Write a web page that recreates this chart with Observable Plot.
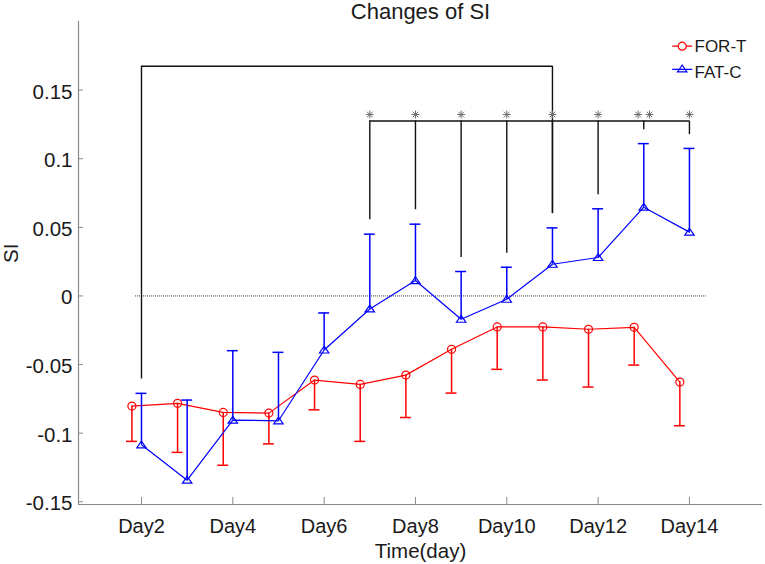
<!DOCTYPE html>
<html>
<head>
<meta charset="utf-8">
<script src="https://cdn.jsdelivr.net/npm/d3@7"></script>
<script src="https://cdn.jsdelivr.net/npm/@observablehq/plot@0.6"></script>
<style>
  html, body { margin: 0; padding: 0; background: #fff; }
  #chart svg { display: block; }
</style>
</head>
<body>
<div id="chart"></div>
<script>
// ---- data ----
const days = [2, 3, 4, 5, 6, 7, 8, 9, 10, 11, 12, 13, 14];
const forT      = [-0.0803, -0.0783, -0.0849, -0.0854, -0.0613, -0.0645, -0.0577, -0.0389, -0.0226, -0.0226, -0.0243, -0.0229, -0.0628];
const forTLower = [-0.1060, -0.1140, -0.1234, -0.1078, -0.0830, -0.1060, -0.0886, -0.0708, -0.0535, -0.0613, -0.0664, -0.0504, -0.0946];
const fatC      = [-0.1085, -0.1343, -0.0905, -0.0910, -0.0394, -0.0095, 0.0112, -0.0170, -0.0024, 0.0231, 0.0280, 0.0647, 0.0465];
const fatCUpper = [-0.0710, -0.0759, -0.0399, -0.0411, -0.0124, 0.0450, 0.0523, 0.0178, 0.0209, 0.0496, 0.0635, 0.1110, 0.1075];

const seriesNames = ["FOR-T", "FAT-C"];
const xTicks = [2, 4, 6, 8, 10, 12, 14];
const xTickLabels = ["Day2", "Day4", "Day6", "Day8", "Day10", "Day12", "Day14"];
const yTicks = [-0.15, -0.1, -0.05, 0, 0.05, 0.1, 0.15];
const yTickLabels = ["-0.15", "-0.1", "-0.05", "0", "0.05", "0.1", "0.15"];

// significance: long bracket Day2–Day11
const longBracketDays = [2, 11];
const longBracketTop = 0.1674;
const longBracketEnds = [-0.0606, 0.0600];
// significance: comb bracket Day7–Day14
const combDays = [7, 8, 9, 10, 11, 12, 13, 14];
const combTop = 0.1275;
const combEnds = [0.0555, 0.0628, 0.0280, 0.0311, 0.0600, 0.0737, 0.1212, 0.1175];
const combStars = [1, 1, 1, 1, 1, 1, 2, 1];
const starLevel = 0.1322;

// zero reference line extent
const zeroLineDays = [1.87, 14.37];

// ---- layout / style ----
const xDomain = [0.6205, 15.6];
const yDomain = [-0.152, 0.2];
const redOffset = -0.21;
const capHalf = 0.12;
const starGap = 0.125;
const RED = "#ff0000", BLUE = "#0000ff", AXIS = "#8a8a8a", INK = "#1a1a1a";

// ---- derived tables ----
const redRows = days.map((d, i) => ({x: d + redOffset, y: forT[i], lo: forTLower[i]}));
const blueRows = days.map((d, i) => ({x: d, y: fatC[i], hi: fatCUpper[i]}));
const verticals = [
  {x: longBracketDays[0], y1: longBracketTop, y2: longBracketEnds[0]},
  {x: longBracketDays[1], y1: longBracketTop, y2: longBracketEnds[1]},
  ...combDays.map((d, i) => ({x: d, y1: combTop, y2: combEnds[i]}))
];
const horizontals = [
  {y: longBracketTop, x1: longBracketDays[0], x2: longBracketDays[1]},
  {y: combTop, x1: combDays[0], x2: combDays[combDays.length - 1]}
];
const stars = combDays.flatMap((d, i) => combStars[i] === 2 ? [d - starGap, d + starGap] : [d]);

// ---- custom symbols ----
const asterisk = {
  draw(ctx) {
    const r = 4, q = r * Math.SQRT1_2;
    ctx.moveTo(-r, 0); ctx.lineTo(r, 0);
    ctx.moveTo(0, -r); ctx.lineTo(0, r);
    ctx.moveTo(-q, -q); ctx.lineTo(q, q);
    ctx.moveTo(-q, q); ctx.lineTo(q, -q);
  }
};
const triangle = {
  draw(ctx) {
    ctx.moveTo(0, -3.8); ctx.lineTo(4.7, 3); ctx.lineTo(-4.7, 3); ctx.closePath();
  }
};
const legendCircle = {
  draw(ctx) {
    ctx.moveTo(-10, 0); ctx.lineTo(-4, 0);
    ctx.moveTo(4, 0); ctx.lineTo(10, 0);
    ctx.moveTo(4, 0); ctx.arc(0, 0, 4, 0, 2 * Math.PI);
  }
};
const legendTriangle = {
  draw(ctx) {
    ctx.moveTo(-10, 0.5); ctx.lineTo(10, 0.5);
    ctx.moveTo(0, -3.8); ctx.lineTo(4.7, 3); ctx.lineTo(-4.7, 3); ctx.closePath();
  }
};

const chart = Plot.plot({
  width: 765,
  height: 564,
  marginLeft: 78,
  marginRight: 3,
  marginTop: 21,
  marginBottom: 60,
  style: {fontFamily: "'Liberation Sans', Arial, sans-serif", fontSize: "20px", color: INK, background: "#fff"},
  x: {domain: xDomain},
  y: {domain: yDomain},
  marks: [
    // zero line
    Plot.ruleY([0], {x1: zeroLineDays[0], x2: zeroLineDays[1], stroke: "#333", strokeWidth: 1, strokeDasharray: "1,1"}),
    // significance brackets
    Plot.ruleX(verticals, {x: "x", y1: "y1", y2: "y2", stroke: "#111", strokeWidth: 1.4}),
    Plot.ruleY(horizontals, {y: "y", x1: "x1", x2: "x2", stroke: "#111", strokeWidth: 1.4}),
    Plot.dot(stars, {x: d => d, y: () => starLevel, symbol: asterisk, stroke: "#6f6f6f", strokeWidth: 1, fill: "none"}),
    // FOR-T
    Plot.ruleX(redRows, {x: "x", y1: "y", y2: "lo", stroke: RED, strokeWidth: 1.5}),
    Plot.ruleY(redRows, {y: "lo", x1: d => d.x - capHalf, x2: d => d.x + capHalf, stroke: RED, strokeWidth: 1.5}),
    Plot.line(redRows, {x: "x", y: "y", stroke: RED, strokeWidth: 1.2}),
    Plot.dot(redRows, {x: "x", y: "y", r: 4, stroke: RED, strokeWidth: 1.2, fill: "none"}),
    // FAT-C
    Plot.ruleX(blueRows, {x: "x", y1: "y", y2: "hi", stroke: BLUE, strokeWidth: 1.5}),
    Plot.ruleY(blueRows, {y: "hi", x1: d => d.x - capHalf, x2: d => d.x + capHalf, stroke: BLUE, strokeWidth: 1.5}),
    Plot.line(blueRows, {x: "x", y: "y", stroke: BLUE, strokeWidth: 1.2}),
    Plot.dot(blueRows, {x: "x", y: "y", symbol: triangle, stroke: BLUE, strokeWidth: 1.2, fill: "none"}),
    // axis lines
    Plot.ruleX([xDomain[0]], {stroke: AXIS, strokeWidth: 1.2}),
    Plot.ruleY([yDomain[0]], {stroke: AXIS, strokeWidth: 1.2}),
    // y axis: labels + inward ticks
    Plot.axisY({ticks: yTicks, tickSize: 0, tickPadding: 6, dy: 2, tickFormat: d => yTickLabels[yTicks.indexOf(d)], label: null, fontSize: 20.5, fill: INK}),
    Plot.axisY({ticks: yTicks, tickSize: 5, dx: 5, tickFormat: () => "", label: null, stroke: AXIS}),
    // x axis: labels + inward ticks
    Plot.axisX({ticks: xTicks, tickSize: 0, tickPadding: 14, tickFormat: d => xTickLabels[xTicks.indexOf(d)], label: null, fontSize: 20, fill: INK}),
    Plot.axisX({ticks: xTicks, tickSize: 7, dy: -7, tickFormat: () => "", label: null, stroke: AXIS}),
    // title and axis labels
    Plot.text(["Changes of SI"], {frameAnchor: "top", lineAnchor: "bottom", dy: -3, fontSize: 22, fill: INK}),
    Plot.text(["Time(day)"], {frameAnchor: "bottom", lineAnchor: "bottom", dy: 53, fontSize: 20.5, fill: INK}),
    Plot.text(["SI"], {frameAnchor: "left", lineAnchor: "bottom", rotate: -90, dx: -61, fontSize: 20.5, fill: INK}),
    // legend
    Plot.dot([seriesNames[0]], {frameAnchor: "top-right", dx: -80.3, dy: 24.7, symbol: legendCircle, stroke: RED, strokeWidth: 1.2, fill: "none"}),
    Plot.dot([seriesNames[1]], {frameAnchor: "top-right", dx: -80.3, dy: 47.3, symbol: legendTriangle, stroke: BLUE, strokeWidth: 1.2, fill: "none"}),
    Plot.text([seriesNames[0]], {frameAnchor: "top-right", textAnchor: "start", lineAnchor: "bottom", dx: -68, dy: 30.7, fontSize: 17, fill: INK}),
    Plot.text([seriesNames[1]], {frameAnchor: "top-right", textAnchor: "start", lineAnchor: "bottom", dx: -68, dy: 56, fontSize: 17, fill: INK})
  ]
});
document.getElementById("chart").appendChild(chart);
</script>
</body>
</html>
